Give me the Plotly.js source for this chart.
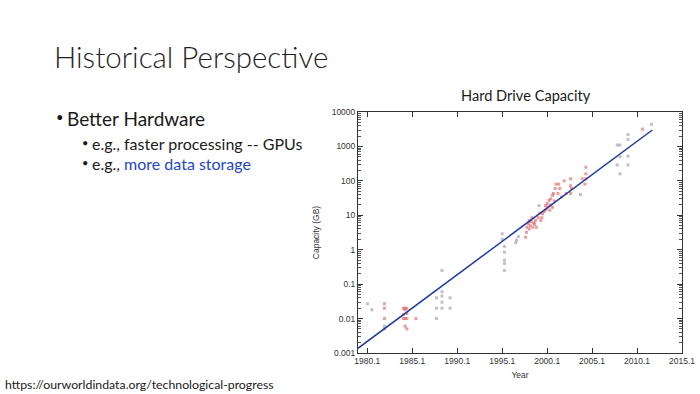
<!DOCTYPE html>
<html>
<head>
<meta charset="utf-8">
<script src="https://cdn.plot.ly/plotly-3.0.1.min.js"></script>
<style>
  html, body { margin: 0; padding: 0; background: #ffffff; }
  #chart { width: 700px; height: 394px; }
</style>
</head>
<body>
<div id="chart"></div>
<script>
// ---- data ----
const redYears = [
  1982.0, 1982.0, 1982.0,
  1984.1, 1984.1, 1984.1, 1984.3, 1984.3, 1984.3, 1984.3, 1984.5, 1984.5, 1984.5, 1984.5,
  1985.5,
  1997.7, 1997.8, 1997.85, 1998.0, 1998.1, 1998.1, 1998.2, 1998.3, 1998.4, 1998.5,
  1998.6, 1998.7, 1998.8, 1998.9, 1999.1, 1999.3, 1999.4, 1999.5, 1999.6, 1999.8,
  1999.9, 2000.0, 2000.1, 2000.2, 2000.3, 2000.4, 2000.5, 2000.5, 2000.7, 2000.7,
  2000.8, 2000.9, 2001.0, 2001.1, 2001.3, 2001.4, 2001.5, 2001.7, 2002.0, 2002.2,
  2002.7, 2002.7, 2002.7, 2002.8, 2004.0, 2004.3, 2004.4, 2004.4, 2004.4, 2010.7
];
const redCapacity = [
  0.027, 0.02, 0.01,
  0.02, 0.013, 0.01, 0.018, 0.02, 0.01, 0.006, 0.02, 0.014, 0.01, 0.005,
  0.01,
  2.3, 3.2, 4.5, 5.8, 7, 4, 5, 6.5, 8.5, 4.5,
  6, 5.5, 7, 4.5, 8.5, 11.5, 7, 8.5, 11, 13,
  19, 15, 22, 17.5, 27, 14, 20, 30, 38, 17,
  43, 26, 60, 80, 43, 80, 60, 34, 100, 43,
  115, 72, 43, 60, 115, 80, 160, 250, 115, 3200
];
const greyYears = [
  1980.1, 1980.6, 1982.0, 1982.0,
  1987.8, 1987.8, 1987.8, 1988.4, 1988.4, 1988.4, 1988.4, 1988.4, 1989.3, 1989.3,
  1995.1, 1995.1, 1995.35, 1995.35, 1995.35, 1995.35, 1995.35,
  1996.6, 1996.7, 1996.9, 1999.2, 2003.8,
  2007.9, 2007.9, 2008.2, 2008.2, 2008.2, 2009.1, 2009.1, 2009.1, 2009.1, 2011.7
];
const greyCapacity = [
  0.027, 0.018, 0.006, 0.005,
  0.04, 0.02, 0.01, 0.25, 0.06, 0.045, 0.03, 0.02, 0.04, 0.02,
  2.9, 2.0, 1.25, 0.85, 0.5, 0.4, 0.25,
  1.6, 1.9, 2.4, 19, 40,
  1100, 290, 1100, 160, 500, 2200, 1600, 520, 290, 4400
];
const fitYears = [1979.06, 2011.8];
const fitCapacity = [0.00137, 3000];

const xTickVals = [1980.1, 1985.1, 1990.1, 1995.1, 2000.1, 2005.1, 2010.1, 2015.1];
const xTickText = ["1980.1", "1985.1", "1990.1", "1995.1", "2000.1", "2005.1", "2010.1", "2015.1"];
const yTickVals = [0.001, 0.01, 0.1, 1, 10, 100, 1000, 10000];
const yTickText = ["0.001", "0.01", "0.1", "1", "10", "100", "1000", "10000"];

// ---- layout geometry (pixels) ----
const W = 700, H = 394;
const L = 358, T = 112, PW = 324, PH = 241;
const px = x => (x - L) / PW;
const py = y => (T + PH - y) / PH;

const slideFont = "Lato, 'Open Sans', sans-serif";
const chartFont = "'Liberation Sans', Arial, sans-serif";

const traces = [
  {
    x: greyYears, y: greyCapacity, type: 'scatter', mode: 'markers',
    marker: {symbol: 'square', size: 3, color: 'rgba(150,150,165,0.6)'},
    hoverinfo: 'skip', showlegend: false
  },
  {
    x: redYears, y: redCapacity, type: 'scatter', mode: 'markers',
    marker: {symbol: 'square', size: 3, color: 'rgba(222,90,90,0.6)'},
    hoverinfo: 'skip', showlegend: false
  },
  {
    x: fitYears, y: fitCapacity, type: 'scatter', mode: 'lines',
    line: {color: '#1f3c9c', width: 1.5},
    hoverinfo: 'skip', showlegend: false
  }
];

const ann = [];
function addText(text, x, y, size, opts) {
  ann.push(Object.assign({
    text: text, xref: 'paper', yref: 'paper', x: px(x), y: py(y),
    xanchor: 'left', yanchor: 'middle', showarrow: false,
    font: {family: slideFont, size: size, color: '#1a1a1a'}
  }, opts || {}));
}
addText('Historical Perspective', 52, 57, 29.5, {font: {family: slideFont, size: 29.5, color: '#1f1f1f', weight: 300}});
addText('•', 54, 117, 13);
addText('Better Hardware', 65, 118, 19);
addText('•', 80, 142, 11);
addText('e.g., faster processing -- GPUs', 90, 143, 16);
addText('•', 80, 162, 11);
addText('e.g., <span style="color:#2445c4">more data storage</span>', 90, 163, 16);
addText('https://ourworldindata.org/technological-progress', 3, 384, 12.3);
addText('Hard Drive Capacity', 526, 95, 14.6, {xanchor: 'center'});

const axisCommon = {
  showline: true, linecolor: '#333', linewidth: 1, mirror: 'allticks',
  ticks: 'inside', ticklen: 5, tickcolor: '#333', tickwidth: 1,
  showgrid: false, zeroline: false,
  tickfont: {family: chartFont, size: 8.5, color: '#333'}
};

const layout = {
  width: W, height: H,
  margin: {l: L, r: W - L - PW, t: T, b: H - T - PH, pad: 0},
  paper_bgcolor: '#ffffff', plot_bgcolor: '#ffffff',
  showlegend: false,
  xaxis: Object.assign({}, axisCommon, {
    range: [1979.06, 2015.1],
    tickmode: 'array', tickvals: xTickVals, ticktext: xTickText,
    title: {text: 'Year', font: {family: chartFont, size: 8.5, color: '#333'}, standoff: 6}
  }),
  yaxis: Object.assign({}, axisCommon, {
    type: 'log', range: [-3, 4],
    tickmode: 'array', tickvals: yTickVals, ticktext: yTickText,
    minor: {ticks: 'inside', ticklen: 3, tickcolor: '#555', dtick: 'D1', showgrid: false},
    title: {text: 'Capacity (GB)', font: {family: chartFont, size: 8.5, color: '#333'}, standoff: 10}
  }),
  annotations: ann
};

Plotly.newPlot('chart', traces, layout, {staticPlot: true, displayModeBar: false});
</script>
</body>
</html>
